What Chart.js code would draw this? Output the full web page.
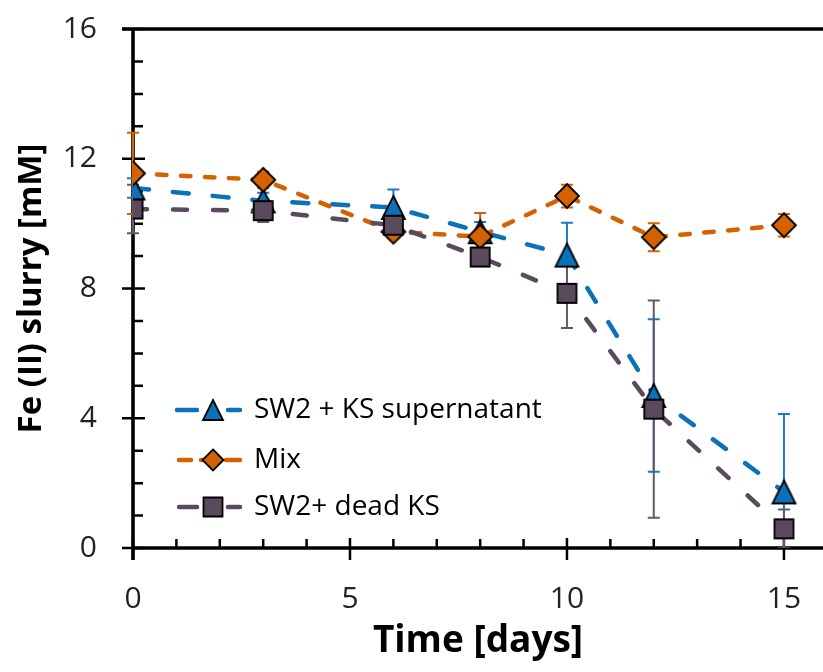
<!DOCTYPE html>
<html>
<head>
<meta charset="utf-8">
<script src="https://cdn.jsdelivr.net/npm/chart.js@4/dist/chart.umd.min.js"></script>
<style>
  html, body { margin: 0; padding: 0; background: #ffffff; overflow: hidden; }
  #wrap { width: 823px; height: 672px; }
  canvas { display: block; }
</style>
</head>
<body>
<div id="wrap"><canvas id="c" width="823" height="672"></canvas></div>
<script>
// ---- data ----
const days = [0, 3, 6, 8, 10, 12, 15];
const supernatant    = [11.1, 10.7, 10.5, 9.75, 9.03, 4.7, 1.73];
const supernatantErr = [0.3, 0.25, 0.55, 0.3, 1.0, 2.35, 2.4];
const mix            = [11.55, 11.35, 9.75, 9.6, 10.85, 9.58, 9.95];
const mixErr         = [1.25, 0.25, 0.2, 0.73, 0.35, 0.43, 0.35];
const deadKS         = [10.45, 10.4, 9.95, 8.97, 7.85, 4.28, 0.59];
const deadKSErr      = [0.75, 0.35, 0.2, 0.2, 1.07, 3.35, 0.6];
const seriesNames = ['SW2 + KS supernatant', 'Mix', 'SW2+ dead KS'];
const xTickLabels = [0, 5, 10, 15];
const yTickLabels = [0, 4, 8, 12, 16];
const xTitle = 'Time [days]';
const yTitle = 'Fe (II) slurry [mM]';

// ---- styles ----
const BLUE = '#0B72B9', ORANGE = '#D56200', PURPLE = '#5A4A5E';
const BLUE_ERR = '#1A7CC0', ORANGE_ERR = '#D56200', PURPLE_ERR = '#66576C';
const FONT = 'Open Sans';

function drawMarker(g, kind, x, y, s, fill) {
  const h = s / 2;
  g.beginPath();
  if (kind === 'triangle') { g.moveTo(x, y - h); g.lineTo(x + h, y + h); g.lineTo(x - h, y + h); g.closePath(); }
  else if (kind === 'diamond') { g.moveTo(x, y - h); g.lineTo(x + h, y); g.lineTo(x, y + h); g.lineTo(x - h, y); g.closePath(); }
  else { g.rect(x - h, y - h, s, s); }
  g.fillStyle = fill; g.fill();
  g.lineWidth = 1.8; g.strokeStyle = '#000'; g.lineJoin = 'miter'; g.stroke();
}
function markerCanvas(kind, s, fill) {
  const c = document.createElement('canvas');
  const n = Math.ceil(s + 4);
  c.width = n; c.height = n;
  drawMarker(c.getContext('2d'), kind, n / 2, n / 2, s, fill);
  return c;
}
const markers = [
  { kind: 'triangle', size: 23, legendSize: 20, fill: BLUE },
  { kind: 'diamond',  size: 24, legendSize: 21, fill: ORANGE },
  { kind: 'square',   size: 19, legendSize: 19, fill: PURPLE }
];

const pts = arr => days.map((d, i) => ({ x: d, y: arr[i] }));

const seriesStyle = [
  { color: BLUE,   err: supernatantErr, vals: supernatant, errColor: BLUE_ERR,   dash: [16, 24] },
  { color: ORANGE, err: mixErr,         vals: mix,         errColor: ORANGE_ERR, dash: [9.5, 14.5] },
  { color: PURPLE, err: deadKSErr,      vals: deadKS,      errColor: PURPLE_ERR, dash: [14, 26] }
];

const datasets = [supernatant, mix, deadKS].map((arr, i) => ({
  label: seriesNames[i],
  data: pts(arr),
  borderColor: seriesStyle[i].color,
  backgroundColor: seriesStyle[i].color,
  borderWidth: 4.5,
  borderDash: seriesStyle[i].dash,
  borderCapStyle: 'round',
  fill: false,
  tension: 0,
  pointStyle: markerCanvas(markers[i].kind, markers[i].size, markers[i].fill),
  pointRadius: 12,
  order: 3 - i
}));

const excelPlugin = {
  id: 'excelLook',
  beforeDatasetsDraw(chart) {
    const { ctx, chartArea: a, scales: { x, y } } = chart;
    ctx.save();
    ctx.strokeStyle = '#000';
    ctx.lineCap = 'butt';
    // minor ticks (inside) and major ticks (crossing)
    ctx.lineWidth = 2.5;
    ctx.beginPath();
    for (let v = Math.ceil(y.min); v <= y.max; v++) {
      const py = y.getPixelForValue(v);
      if (yTickLabels.includes(v)) { ctx.moveTo(a.left - 11, py); ctx.lineTo(a.left + 12, py); }
      else { ctx.moveTo(a.left, py); ctx.lineTo(a.left + 10, py); }
    }
    for (let v = Math.ceil(x.min); v <= x.max; v++) {
      const px = x.getPixelForValue(v);
      if (xTickLabels.includes(v)) { ctx.moveTo(px, a.bottom - 10); ctx.lineTo(px, a.bottom + 12); }
      else { ctx.moveTo(px, a.bottom); ctx.lineTo(px, a.bottom - 9); }
    }
    ctx.stroke();
    // axis lines and top border
    ctx.lineWidth = 3.6;
    ctx.beginPath();
    ctx.moveTo(a.left, a.top - 1.8); ctx.lineTo(a.left, a.bottom + 12);
    ctx.moveTo(a.left - 1.8, a.bottom); ctx.lineTo(a.right, a.bottom);
    ctx.moveTo(a.left - 11, a.top); ctx.lineTo(a.right, a.top);
    ctx.stroke();
    // error bars, clipped vertically to the plot area
    ctx.beginPath();
    ctx.rect(0, a.top - 2, chart.width, a.bottom - a.top + 2);
    ctx.clip();
    ctx.lineWidth = 2;
    seriesStyle.forEach(s => {
      ctx.strokeStyle = s.errColor;
      ctx.beginPath();
      days.forEach((d, i) => {
        const px = x.getPixelForValue(d);
        const top = y.getPixelForValue(s.vals[i] + s.err[i]);
        const bot = y.getPixelForValue(s.vals[i] - s.err[i]);
        ctx.moveTo(px, top); ctx.lineTo(px, bot);
        ctx.moveTo(px - 6, top); ctx.lineTo(px + 6, top);
        ctx.moveTo(px - 6, bot); ctx.lineTo(px + 6, bot);
      });
      ctx.stroke();
    });
    ctx.restore();
  },
  afterDatasetsDraw(chart) {
    const { ctx, chartArea: a } = chart;
    ctx.save();
    const rows = [a.top + 381, a.top + 431, a.top + 478];
    const mx = a.left + 80;
    const segs = [
      [[177, 197], [228, 240]],
      [[179, 191], [201, 206], [226, 240]],
      [[179, 197], [228, 240]]
    ];
    seriesNames.forEach((name, i) => {
      const yy = rows[i];
      ctx.strokeStyle = seriesStyle[i].color;
      ctx.lineWidth = 4.5;
      ctx.lineCap = 'round';
      ctx.beginPath();
      segs[i].forEach(([s, e]) => { ctx.moveTo(a.left + s - 133, yy); ctx.lineTo(a.left + e - 133, yy); });
      ctx.stroke();
      drawMarker(ctx, markers[i].kind, mx, yy, markers[i].legendSize, markers[i].fill);
      ctx.fillStyle = '#000';
      ctx.font = '28px "' + FONT + '"';
      ctx.textAlign = 'left';
      ctx.textBaseline = 'middle';
      ctx.fillText(name, a.left + 121, yy);
    });
    ctx.restore();
  }
};

new Chart(document.getElementById('c').getContext('2d'), {
  type: 'line',
  data: { datasets },
  options: {
    responsive: false,
    animation: false,
    devicePixelRatio: 1,
    events: [],
    layout: { autoPadding: false, padding: { left: 0, top: 29, right: 0, bottom: 4.6 } },
    plugins: { legend: { display: false }, tooltip: { enabled: false } },
    scales: {
      x: {
        type: 'linear', min: 0, max: 15.9,
        grid: { display: false, tickLength: 33 }, border: { display: false },
        afterBuildTicks: s => { s.ticks = xTickLabels.map(v => ({ value: v })); },
        afterFit: s => { s.paddingRight = 0; },
        ticks: { font: { family: FONT, size: 30 }, color: '#222', padding: 0, maxRotation: 0, autoSkip: false },
        title: { display: true, text: xTitle, color: '#000', font: { family: FONT, size: 37, weight: 'bold' }, padding: { top: 2, bottom: 4 } }
      },
      y: {
        type: 'linear', min: 0, max: 16,
        grid: { display: false, tickLength: 36 }, border: { display: false },
        afterBuildTicks: s => { s.ticks = yTickLabels.map(v => ({ value: v })); },
        ticks: { font: { family: FONT, size: 30 }, color: '#222', padding: 0, autoSkip: false },
        title: { display: true, text: yTitle, color: '#000', font: { family: FONT, size: 33, weight: 'bold' }, padding: { top: 12.2, bottom: 10.9 } }
      }
    }
  },
  plugins: [excelPlugin]
});
</script>
</body>
</html>
